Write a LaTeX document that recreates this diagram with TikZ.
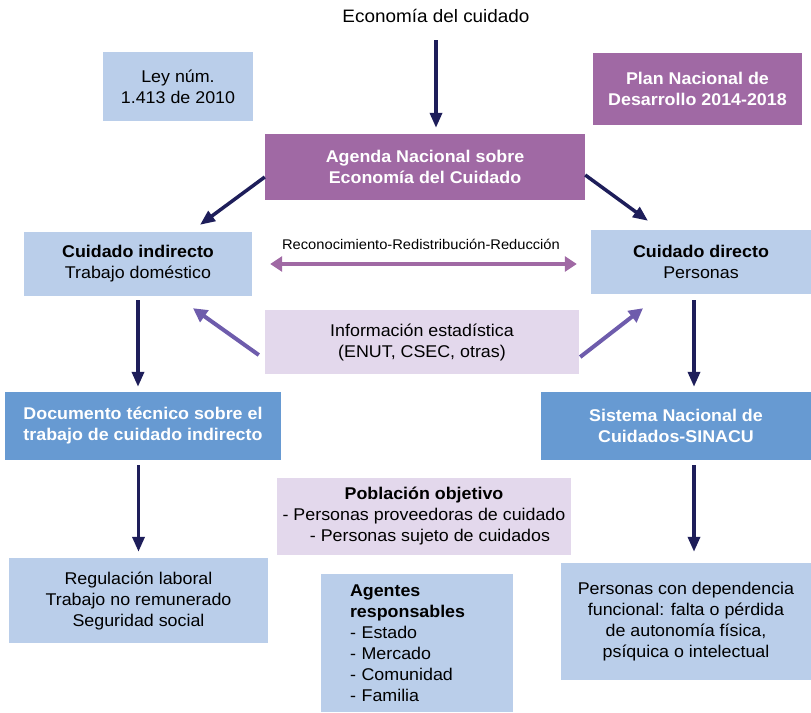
\documentclass[tikz,border=0pt]{standalone}
\usepackage{fontspec}
\setmainfont[FakeStretch=1.05]{Liberation Sans}
\usetikzlibrary{arrows.meta,calc}
\definecolor{celeste}{RGB}{186,206,234}
\definecolor{azulm}{RGB}{103,154,210}
\definecolor{morado}{RGB}{160,105,164}
\definecolor{lila}{RGB}{227,216,236}
\definecolor{marino}{RGB}{30,30,90}
\definecolor{violeta}{RGB}{110,92,172}
\tikzset{
  caja/.style={inner sep=0pt, align=center, font=\fontsize{17}{21}\selectfont},
  clara/.style={caja, fill=celeste},
  oscura/.style={caja, fill=azulm, text=white, font=\fontsize{17}{21}\selectfont\bfseries},
  agenda/.style={caja, fill=morado, text=white, font=\fontsize{17}{21}\selectfont\bfseries},
  info/.style={caja, fill=lila},
  flecha/.style={line width=3.5pt, marino, -{Triangle[length=15pt,width=12pt]}},
  flechav/.style={line width=4pt, violeta, -{Triangle[length=14pt,width=14pt]}},
  doble/.style={line width=4pt, morado, {Triangle[length=12pt,width=15pt]}-{Triangle[length=12pt,width=15pt]}}
}
\begin{document}
\begin{tikzpicture}[x=1pt,y=-1pt]
\useasboundingbox (0,0) rectangle (811,712);
\node[font=\fontsize{18}{22}\selectfont] (title) at (436,16) {Economía del cuidado};
\node[clara, minimum width=150pt, minimum height=69pt] (ley) at (178,86.5) {Ley núm.\\1.413 de 2010};
\node[agenda, minimum width=209pt, minimum height=72pt] (plan) at (697.5,88.5) {Plan Nacional de\\Desarrollo 2014-2018};
\node[agenda, minimum width=320pt, minimum height=66pt] (agn) at (425,167) {Agenda Nacional sobre\\Economía del Cuidado};
\node[clara, minimum width=228pt, minimum height=64pt] (indir) at (138,264) {\textbf{Cuidado indirecto}\\Trabajo doméstico};
\node[clara, minimum width=220pt, minimum height=64pt] (dir) at (701,262) {\textbf{Cuidado directo}\\Personas};
\node[font=\fontsize{14}{16}\selectfont] (rrr) at (421,244) {Reconocimiento-Redistribución-Reducción};
\node[info, minimum width=314pt, minimum height=64pt] (est) at (422,342) {Información estadística\\(ENUT, CSEC, otras)};
\node[oscura, minimum width=276pt, minimum height=68pt] (doc) at (143,426) {Documento técnico sobre el\\trabajo de cuidado indirecto};
\node[oscura, minimum width=270pt, minimum height=68pt] (sin) at (676,426) {Sistema Nacional de\\Cuidados-SINACU};
\node[info, minimum width=294pt, minimum height=77pt] (pob) at (424,516.5) {\textbf{Población objetivo}\\- Personas proveedoras de cuidado\\\hspace{12pt}- Personas sujeto de cuidados};
\node[clara, minimum width=259pt, minimum height=85pt] (reg) at (138.5,600.5) {Regulación laboral\\Trabajo no remunerado\\Seguridad social};
\node[clara, text width=134pt, inner xsep=29pt, minimum height=138pt, align=left] (age) at (417,643) {\textbf{Agentes}\\\textbf{responsables}\\- Estado\\- Mercado\\- Comunidad\\- Familia};
\node[clara, minimum width=250pt, minimum height=117pt] (per) at (686,621.5) {Personas con dependencia\\funcional: falta o pérdida\\de autonomía física,\\psíquica o intelectual};
\draw[flecha, shorten <=14pt, shorten >=6pt] (title.south) -- (title.south |- agn.north);
\draw[flecha] ([yshift=-10pt]agn.west) -- ([xshift=62pt,yshift=7pt]indir.north);
\draw[flecha] ([yshift=-8pt]agn.east) -- ([xshift=-53pt,yshift=9pt]dir.north);
\draw[doble, shorten <=18pt, shorten >=14pt] (indir.east) -- (indir.east -| dir.west);
\draw[flechav] ([xshift=-6pt,yshift=-13pt]est.west) -- ([xshift=55pt,yshift=-12pt]indir.south);
\draw[flechav] ([xshift=1pt,yshift=-15pt]est.east) -- ([xshift=-58pt,yshift=-14pt]dir.south);
\draw[flecha, shorten <=4pt, shorten >=5pt] (indir.south) -- (indir.south |- doc.north);
\draw[flecha, shorten <=6pt, shorten >=5pt] ([xshift=-7pt]dir.south) -- ([xshift=-7pt]dir.south |- sin.north);
\draw[flecha, shorten <=5pt, shorten >=6pt] (reg.north |- doc.south) -- (reg.north);
\draw[flecha, shorten <=5pt, shorten >=11pt] ([xshift=8pt]per.north |- sin.south) -- ([xshift=8pt]per.north);
\end{tikzpicture}
\end{document}
